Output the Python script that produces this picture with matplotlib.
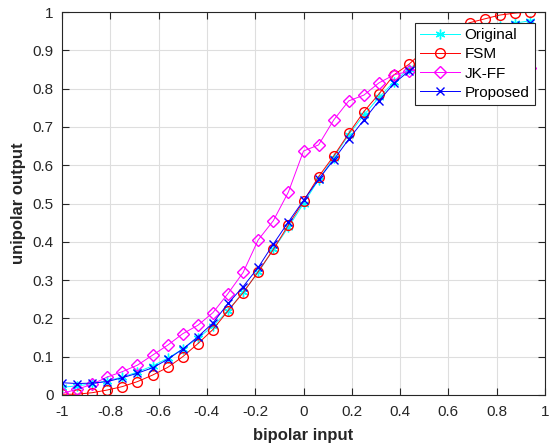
import matplotlib
matplotlib.use("Agg")
import matplotlib.pyplot as plt
import numpy as np

plt.rcParams['font.family'] = ['Liberation Sans', 'DejaVu Sans']
plt.rcParams['axes.unicode_minus'] = False

# bipolar input, 32 levels from -1 to 0.9375
x = np.arange(32) / 16.0 - 1.0

original = [0.020, 0.024, 0.029, 0.037, 0.047, 0.060, 0.076, 0.096, 0.120, 0.148,
            0.180, 0.220, 0.269, 0.320, 0.380, 0.438, 0.500, 0.562, 0.620, 0.680,
            0.731, 0.777, 0.818, 0.852, 0.880, 0.904, 0.924, 0.940, 0.953, 0.963,
            0.971, 0.977]
fsm = [0.002, 0.002, 0.006, 0.013, 0.022, 0.035, 0.052, 0.072, 0.100, 0.134,
       0.171, 0.220, 0.267, 0.322, 0.380, 0.444, 0.506, 0.570, 0.624, 0.683,
       0.740, 0.786, 0.836, 0.864, 0.900, 0.930, 0.955, 0.972, 0.982, 0.992,
       0.997, 1.000]
jkff = [0.004, 0.015, 0.028, 0.047, 0.061, 0.078, 0.104, 0.130, 0.160, 0.182,
        0.215, 0.265, 0.320, 0.405, 0.455, 0.530, 0.637, 0.653, 0.718, 0.768,
        0.783, 0.815, 0.836, 0.845, 0.855, 0.860, 0.850, 0.855, 0.860, 0.850,
        0.855, 0.854]
proposed = [0.032, 0.030, 0.031, 0.035, 0.045, 0.057, 0.071, 0.093, 0.120, 0.152,
            0.188, 0.239, 0.283, 0.333, 0.394, 0.452, 0.508, 0.563, 0.614, 0.668,
            0.718, 0.768, 0.814, 0.846, 0.875, 0.900, 0.920, 0.940, 0.952, 0.960,
            0.965, 0.970]

fig = plt.figure(figsize=(5.55, 4.46), dpi=100)
ax = fig.add_axes([62 / 555, 51 / 446, 483 / 555, 383 / 446])

asterisk = (6, 2, 0)
ax.plot(x, original, color='cyan', marker=asterisk, ms=7, lw=0.7, label='Original')
ax.plot(x, fsm, color='red', marker='o', ms=7, mfc='none', lw=0.7, label='FSM')
ax.plot(x, jkff, color='magenta', marker='D', ms=6, mfc='none', lw=0.7, label='JK-FF')
ax.plot(x, proposed, color='blue', marker='x', ms=6, lw=0.7, label='Proposed')

ax.set_xlim(-1, 1)
ax.set_ylim(0, 1)
ax.set_xticks(np.round(np.arange(-1, 1.01, 0.2), 1))
ax.set_xticklabels(['-1', '-0.8', '-0.6', '-0.4', '-0.2', '0', '0.2', '0.4', '0.6', '0.8', '1'])
ax.set_yticks(np.round(np.arange(0, 1.01, 0.1), 1))
ax.set_yticklabels(['0', '0.1', '0.2', '0.3', '0.4', '0.5', '0.6', '0.7', '0.8', '0.9', '1'])
ax.tick_params(direction='in', top=True, right=True, labelsize=11, colors='#262626', length=5)
ax.tick_params(axis='x', pad=7)
ax.tick_params(axis='y', pad=6)
ax.grid(True, color='#dedede', lw=0.8)
ax.set_axisbelow(True)
for s in ax.spines.values():
    s.set_color('#262626')
    s.set_linewidth(0.8)

ax.set_xlabel('bipolar input', fontsize=12, fontweight='bold', color='#262626', labelpad=7)
ax.set_ylabel('unipolar output', fontsize=12, fontweight='bold', color='#262626', labelpad=5)

leg = ax.legend(loc='upper right', bbox_to_anchor=(0.979, 0.971), fontsize=11,
                fancybox=False, framealpha=1, edgecolor='#262626',
                handlelength=2.6, borderpad=0.35, labelspacing=0.33, borderaxespad=0,
                handletextpad=0.3)
leg.get_frame().set_linewidth(0.8)

fig.savefig('out.png', dpi=100)
